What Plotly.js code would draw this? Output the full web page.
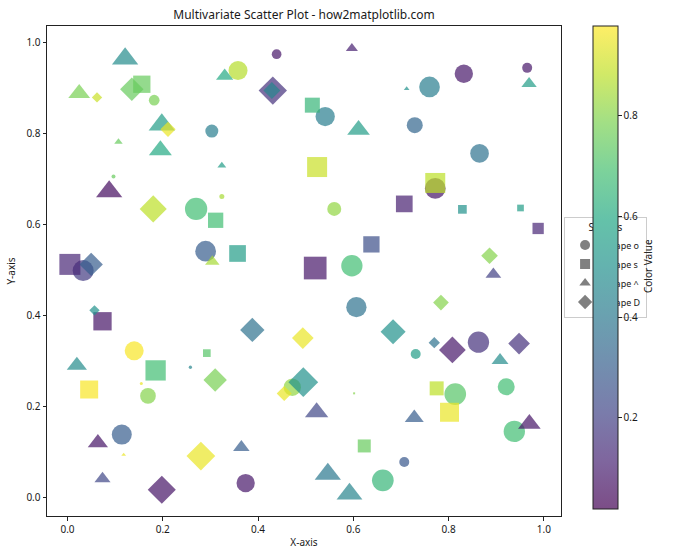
<!DOCTYPE html>
<html>
<head>
<meta charset="utf-8">
<script src="https://cdn.plot.ly/plotly-3.0.1.min.js"></script>
<style>html,body{margin:0;padding:0;background:#fff;}#chart{width:700px;height:560px;}</style>
</head>
<body>
<div id="chart"></div>
<script>
// ---- Data ----
// Circles  (marker 'o')
const circX = [0.182,0.358,0.439,0.303,0.0966,0.270,0.324,0.290,0.0329,0.832,0.965,0.760,0.541,0.729,0.865,0.772,0.560,0.597,0.140,0.258,0.155,0.169,0.472,0.114,0.374,0.6065,0.731,0.8627,0.814,0.921,0.938,0.707,0.662];
const circY = [0.873,0.938,0.974,0.805,0.705,0.634,0.661,0.541,0.4985,0.931,0.944,0.902,0.837,0.818,0.756,0.679,0.634,0.509,0.322,0.286,0.250,0.223,0.242,0.138,0.0314,0.418,0.315,0.341,0.227,0.243,0.145,0.0776,0.0374];
const circC = [0.78,0.87,0.08,0.42,0.75,0.68,0.85,0.30,0.18,0.08,0.08,0.42,0.42,0.33,0.38,0.07,0.82,0.68,0.97,0.45,0.95,0.80,0.82,0.30,0.08,0.38,0.55,0.15,0.72,0.68,0.68,0.28,0.65];
const circS = [10.7,19,9.7,13,4,22.3,5,20.7,21,18.3,10,20.7,19.3,16,18.7,20.7,14,21.3,19,3.3,3,15.7,17.3,20,18.3,20.3,10,21.3,21.7,17,21.3,10,21.7];

// Squares (marker 's')
const sqX = [0.156,0.514,0.524,0.311,0.357,0.005,0.520,0.772,0.707,0.829,0.951,0.988,0.638,0.0735,0.2925,0.185,0.0455,0.775,0.802,0.6017,0.623];
const sqY = [0.908,0.862,0.726,0.609,0.536,0.512,0.504,0.691,0.645,0.633,0.636,0.591,0.556,0.387,0.317,0.279,0.237,0.2395,0.187,0.2286,0.113];
const sqC = [0.75,0.65,0.90,0.68,0.55,0.12,0.08,0.88,0.10,0.50,0.55,0.12,0.25,0.07,0.72,0.68,0.97,0.88,0.95,0.80,0.75];
const sqS = [17.3,15,20,15.3,16.7,21,22.7,20,16.7,8.7,6.7,11.3,16.3,18.3,7.7,20.3,18,14,19,2,13];

// Triangles (marker '^')
const triX = [0.121,0.0246,0.330,0.198,0.107,0.195,0.324,0.0875,0.304,0.597,0.969,0.712,0.611,0.894,0.0197,0.0638,0.118,0.365,0.0735,0.523,0.908,0.9696,0.5465,0.592,0.728];
const triY = [0.964,0.888,0.926,0.819,0.781,0.763,0.729,0.672,0.518,0.987,0.909,0.898,0.808,0.490,0.290,0.120,0.0936,0.110,0.041,0.187,0.301,0.1615,0.0512,0.0073,0.1747];
const triC = [0.48,0.78,0.60,0.55,0.75,0.60,0.55,0.05,0.85,0.10,0.55,0.50,0.55,0.20,0.48,0.07,0.95,0.30,0.22,0.22,0.48,0.07,0.40,0.45,0.30];
const triS = [21.7,18,14.3,21.7,7,19,7.3,21.7,12,10,12.7,4.7,18.7,13,16.7,16.7,4,13.7,13.3,19.3,14,18.7,21.7,21.3,15.7];

// Diamonds (marker 'D')
const diaX = [0.135,0.062,0.431,0.429,0.211,0.180,0.0497,0.886,0.0567,0.388,0.494,0.310,0.455,0.495,0.280,0.198,0.784,0.6835,0.770,0.808,0.948];
const diaY = [0.897,0.879,0.894,0.894,0.809,0.634,0.512,0.531,0.411,0.368,0.350,0.258,0.228,0.253,0.0908,0.0167,0.428,0.364,0.340,0.324,0.338];
const diaC = [0.75,0.90,0.15,0.45,0.95,0.88,0.30,0.80,0.50,0.38,0.95,0.78,0.95,0.50,0.95,0.07,0.80,0.50,0.38,0.08,0.15];
const diaS = [16.5,7.3,20,12,10.8,19.1,16.5,11.8,7.3,17.2,15.3,16.5,10.6,21,20.3,19.8,11.1,17.7,8,18.9,15.3];

const shapeNames = ['Shape o','Shape s','Shape ^','Shape D'];
const tickVals = [0.0,0.2,0.4,0.6,0.8,1.0];
const cbTickVals = [0.2,0.4,0.6,0.8];

// ---- Styling ----
const viridis = [
  [0.0,'#440154'],[0.1,'#482475'],[0.2,'#414487'],[0.3,'#355f8d'],[0.4,'#2a788e'],
  [0.5,'#21918c'],[0.6,'#22a884'],[0.7,'#44bf70'],[0.8,'#7ad151'],[0.9,'#bddf26'],[1.0,'#fde725']
];
// viridis at alpha 0.7 over white (for the colorbar)
const viridisPale = [
  [0.0,'rgb(124,77,135)'],[0.1,'rgb(127,102,158)'],[0.2,'rgb(122,124,171)'],[0.3,'rgb(114,143,175)'],
  [0.4,'rgb(106,161,176)'],[0.5,'rgb(100,178,175)'],[0.6,'rgb(100,194,169)'],[0.7,'rgb(124,210,155)'],
  [0.8,'rgb(162,223,133)'],[0.9,'rgb(209,233,103)'],[1.0,'rgb(254,238,102)']
];
const CMIN = 0.019, CMAX = 0.978;
const FONT = 'Noto Sans, DejaVu Sans, sans-serif';
const TXT = '#1a1a1a';

function mk(x, y, c, s, symbol, factor) {
  return {
    type: 'scatter', mode: 'markers', x: x, y: y, showlegend: false, hoverinfo: 'skip',
    marker: {
      symbol: symbol, size: s.map(v => v * factor), color: c,
      colorscale: viridis, cmin: CMIN, cmax: CMAX, showscale: false,
      opacity: 0.7, line: {width: 0}
    }
  };
}

const traces = [
  mk(circX, circY, circC, circS, 'circle', 1.0),
  mk(sqX, sqY, sqC, sqS, 'square', 1.0),
  mk(triX, triY, triC, triS, 'triangle-up', 1.05),
  mk(diaX, diaY, diaC, diaS, 'diamond', 1.09)
];

// Legend proxies (gray)
const legendSymbols = ['circle','square','triangle-up','diamond'];
shapeNames.forEach((n, i) => {
  traces.push({
    type: 'scatter', mode: 'markers', x: [null], y: [null], name: n, showlegend: true,
    marker: {symbol: legendSymbols[i], color: 'gray', size: i === 3 ? 11 : 10}
  });
});

// Colorbar carrier
const allC = circC.concat(sqC, triC, diaC);
traces.push({
  type: 'scatter', mode: 'markers', x: allC.map(() => null), y: allC.map(() => null),
  showlegend: false, hoverinfo: 'skip',
  marker: {
    color: allC, colorscale: viridisPale, cmin: CMIN, cmax: CMAX, showscale: true,
    colorbar: {
      x: 1.062, xanchor: 'left', xref: 'paper',
      y: 1, yanchor: 'top', len: 0.986, lenmode: 'fraction',
      thickness: 25, thicknessmode: 'pixels', xpad: 0, ypad: 0,
      outlinewidth: 1, outlinecolor: '#222',
      ticks: 'outside', ticklen: 3.5, tickwidth: 1, tickcolor: '#222',
      tickvals: cbTickVals, ticktext: cbTickVals.map(v => v.toFixed(1)),
      tickfont: {family: FONT, size: 10, color: TXT}
    }
  }
});

const axisCommon = {
  showline: true, mirror: true, linecolor: '#222', linewidth: 1,
  ticks: 'outside', ticklen: 3.5, tickwidth: 1, tickcolor: '#222',
  showgrid: false, zeroline: false,
  tickvals: tickVals, ticktext: tickVals.map(v => v.toFixed(1)),
  tickfont: {family: FONT, size: 10, color: TXT}
};

const layout = {
  width: 700, height: 560,
  margin: {l: 47, r: 139, t: 26, b: 44},
  paper_bgcolor: '#fff', plot_bgcolor: '#fff',
  font: {family: FONT, color: TXT},
  title: {text: 'Multivariate Scatter Plot - how2matplotlib.com', x: 0.5, xref: 'paper',
          y: 1 - 15/560, yref: 'container', yanchor: 'middle',
          font: {family: FONT, size: 12, color: TXT}},
  xaxis: Object.assign({}, axisCommon, {range: [-0.043, 1.036],
          title: {text: 'X-axis', standoff: 4, font: {family: FONT, size: 10, color: TXT}}}),
  yaxis: Object.assign({}, axisCommon, {range: [-0.041, 1.036],
          title: {text: 'Y-axis', standoff: 8, font: {family: FONT, size: 10, color: TXT}}}),
  legend: {
    x: 1.006, xanchor: 'left', y: 0.5 + 4 / 490, yanchor: 'middle',
    bgcolor: 'rgba(255,255,255,0.8)', bordercolor: '#cccccc', borderwidth: 1,
    font: {family: FONT, size: 9, color: TXT},
    title: {text: 'Shapes', side: 'top center', font: {family: FONT, size: 10, color: TXT}},
    itemwidth: 30, tracegroupgap: 0
  },
  annotations: [{
    text: 'Color Value', textangle: -90, showarrow: false,
    xref: 'paper', yref: 'paper', x: (648 - 47) / 514, y: (516 - 266) / 490,
    xanchor: 'center', yanchor: 'middle',
    font: {family: FONT, size: 10, color: TXT}
  }],
  showlegend: true
};

Plotly.newPlot('chart', traces, layout, {displayModeBar: false, staticPlot: true});
</script>
</body>
</html>
